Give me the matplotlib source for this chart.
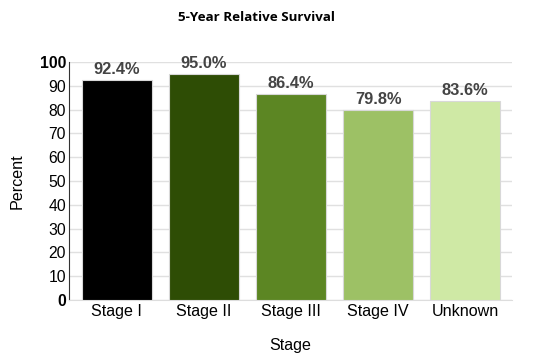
import matplotlib
matplotlib.use("Agg")
import matplotlib.pyplot as plt

stages = ["Stage I", "Stage II", "Stage III", "Stage IV", "Unknown"]
survival = [92.4, 95.0, 86.4, 79.8, 83.6]
colors = ["#000000", "#2e4d05", "#5c8623", "#9dc165", "#cfe9a5"]
yticks = [0, 10, 20, 30, 40, 50, 60, 70, 80, 90, 100]

fig = plt.figure(figsize=(5.34, 3.63), dpi=100)
ax = fig.add_axes([0.129, 0.174, 0.830, 0.655])

bars = ax.bar(stages, survival, width=0.805, color=colors,
              edgecolor="#d8d8d8", linewidth=0.8, zorder=3)
for b, v in zip(bars, survival):
    ax.text(b.get_x() + b.get_width() / 2, v + 1.3, f"{v:.1f}%",
            ha="center", va="bottom", fontsize=11.8, fontweight="bold",
            color="#444444", family="Liberation Sans")

ax.set_ylim(0, 100)
ax.set_xlim(-0.552, 4.54)
ax.set_yticks(yticks)
ax.set_yticklabels([str(t) for t in yticks], family="Liberation Sans", fontsize=11.3)
for lbl in ax.get_yticklabels():
    if lbl.get_text() in ("0", "100"):
        lbl.set_fontweight("bold")
ax.tick_params(axis="y", length=0, pad=2)
ax.tick_params(axis="x", length=0, pad=3, labelsize=11.6)
for lbl in ax.get_xticklabels():
    lbl.set_family("Liberation Sans")

ax.grid(axis="y", color="#e0e0e0", linewidth=1, zorder=0)
for s in ("top", "right"):
    ax.spines[s].set_visible(False)
ax.spines["bottom"].set_color("#dddddd")
ax.spines["left"].set_color("#333333")
ax.spines["left"].set_linewidth(0.8)

ax.set_xlabel("Stage", fontsize=11.6, family="Liberation Sans", labelpad=14)
ax.set_ylabel("Percent", fontsize=11.6, family="Liberation Sans", labelpad=11)
fig.text(0.48, 0.953, "5-Year Relative Survival", ha="center", va="center",
         fontsize=9.6, fontweight="bold", family="Open Sans")

fig.savefig("out.png", dpi=100)
